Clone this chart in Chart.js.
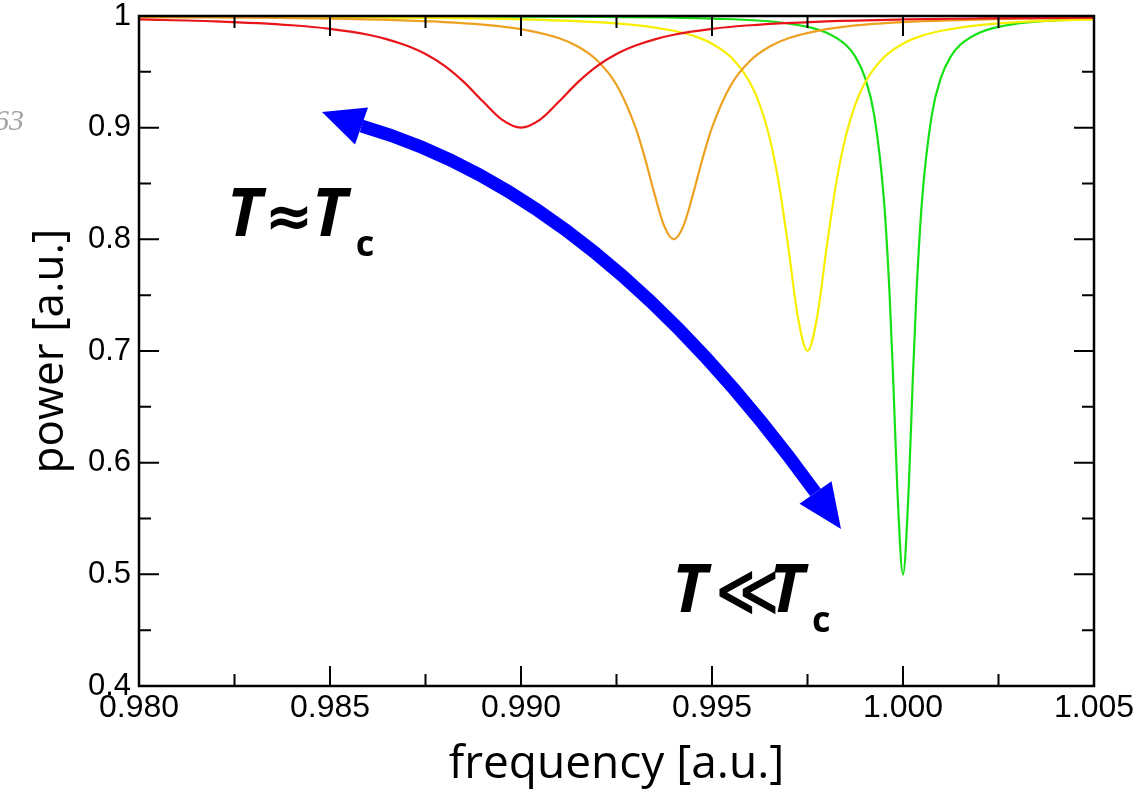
<!DOCTYPE html>
<html><head><meta charset="utf-8">
<script src="https://cdn.jsdelivr.net/npm/chart.js@4.4.1/dist/chart.umd.min.js"></script>
<style>html,body{margin:0;padding:0;background:#fff;}canvas{display:block;}</style>
</head><body>
<canvas id="c" width="1147" height="792"></canvas>
<script>
// ---- data ----
const redX = [0.980, 0.982, 0.984, 0.985, 0.986, 0.9865, 0.987, 0.9875, 0.988, 0.9885, 0.989, 0.9895, 0.990, 0.9905, 0.991, 0.9915, 0.992, 0.9925, 0.993, 0.9935, 0.994, 0.995, 0.996, 0.998, 1.000, 1.002, 1.005];
const redY = [0.9969, 0.9952, 0.9917, 0.9885, 0.9832, 0.9791, 0.9735, 0.9659, 0.9553, 0.9410, 0.9236, 0.9072, 0.9000, 0.9072, 0.9236, 0.9410, 0.9553, 0.9659, 0.9735, 0.9791, 0.9832, 0.9885, 0.9917, 0.9952, 0.9969, 0.9978, 0.9986];

const orangeX = [0.980, 0.985, 0.988, 0.989, 0.990, 0.991, 0.9915, 0.992, 0.9925, 0.993, 0.99325, 0.9935, 0.99375, 0.994, 0.99425, 0.9945, 0.99475, 0.995, 0.9955, 0.996, 0.9965, 0.997, 0.998, 0.999, 1.000, 1.003, 1.005];
const orangeY = [0.9990, 0.9976, 0.9946, 0.9923, 0.9882, 0.9800, 0.9724, 0.9600, 0.9385, 0.9000, 0.8720, 0.8400, 0.8118, 0.8000, 0.8118, 0.8400, 0.8720, 0.9000, 0.9385, 0.9600, 0.9724, 0.9800, 0.9882, 0.9923, 0.9946, 0.9976, 0.9984];

const yellowX = [0.980, 0.985, 0.990, 0.992, 0.993, 0.994, 0.9945, 0.995, 0.9955, 0.996, 0.99625, 0.9965, 0.99675, 0.997, 0.99725, 0.9975, 0.99775, 0.998, 0.99825, 0.9985, 0.99875, 0.999, 0.9995, 1.000, 1.0005, 1.001, 1.002, 1.003, 1.005];
const yellowY = [0.9995, 0.9989, 0.9970, 0.9945, 0.9919, 0.9868, 0.9824, 0.9752, 0.9630, 0.9400, 0.9206, 0.8920, 0.8500, 0.7923, 0.7300, 0.7000, 0.7300, 0.7923, 0.8500, 0.8920, 0.9206, 0.9400, 0.9630, 0.9752, 0.9824, 0.9868, 0.9919, 0.9945, 0.9970];

const greenX = [0.980, 0.990, 0.995, 0.997, 0.998, 0.9985, 0.99875, 0.999, 0.99925, 0.9995, 0.99965, 0.99975, 0.99985, 1.000, 1.00015, 1.00025, 1.00035, 1.0005, 1.00075, 1.001, 1.00125, 1.0015, 1.002, 1.003, 1.005];
const greenY = [0.9999, 0.9994, 0.9976, 0.9933, 0.9851, 0.9742, 0.9637, 0.9454, 0.9106, 0.8356, 0.7500, 0.6689, 0.5776, 0.5000, 0.5776, 0.6689, 0.7500, 0.8356, 0.9106, 0.9454, 0.9637, 0.9742, 0.9851, 0.9933, 0.9976];

const xTickValues = [0.980, 0.985, 0.990, 0.995, 1.000, 1.005];
const xTickLabels = ['0.980', '0.985', '0.990', '0.995', '1.000', '1.005'];
const xMinorTicks = [0.9825, 0.9875, 0.9925, 0.9975, 1.0025];
const yTickValues = [0.4, 0.5, 0.6, 0.7, 0.8, 0.9, 1.0];
const yTickLabels = ['0.4', '0.5', '0.6', '0.7', '0.8', '0.9', '1'];
const yMinorTicks = [0.45, 0.55, 0.65, 0.75, 0.85, 0.95];

// ---- annotations (placed in data space) ----
const arrowSpec = {
  tip1: {x: 0.984791, y: 0.91403}, base1: {x: 0.985825, y: 0.90149},
  ctrl: {x: 0.992068, y: 0.83970},
  base2: {x: 0.997710, y: 0.57329}, tip2: {x: 0.998377, y: 0.54060},
  shaftWidth: 13, headWidth: 39, color: '#0000ff'
};
const labelSpecs = [
  {x: 0.98230, y: 0.8030, rel: '\u2248', relFont: 'bold 58px "DejaVu Sans"', relDx: 38, t2Dx: 85, cDx: 129},
  {x: 0.993953, y: 0.4660, rel: '\u226A', relFont: 'bold 62px "DejaVu Sans"', relDx: 43, t2Dx: 97, cDx: 140}
];

const pts = (xs, ys) => xs.map((x, i) => ({x, y: ys[i]}));
const mkSet = (label, xs, ys, color) => ({
  label, data: pts(xs, ys), borderColor: color, backgroundColor: color,
  borderWidth: 2.2, pointRadius: 0, fill: false, cubicInterpolationMode: 'monotone'
});

const decor = {
  id: 'decor',
  afterDatasetsDraw(chart) {
    const {ctx, chartArea: a, scales: {x, y}} = chart;
    ctx.save();
    // frame
    ctx.strokeStyle = '#000'; ctx.lineWidth = 2.5;
    ctx.strokeRect(a.left, a.top, a.right - a.left, a.bottom - a.top);
    // inward ticks on all sides
    ctx.lineWidth = 2;
    const tx = (v, len) => {
      const p = x.getPixelForValue(v);
      ctx.beginPath(); ctx.moveTo(p, a.bottom); ctx.lineTo(p, a.bottom - len);
      ctx.moveTo(p, a.top); ctx.lineTo(p, a.top + len); ctx.stroke();
    };
    const ty = (v, len) => {
      const p = y.getPixelForValue(v);
      ctx.beginPath(); ctx.moveTo(a.left, p); ctx.lineTo(a.left + len, p);
      ctx.moveTo(a.right, p); ctx.lineTo(a.right - len, p); ctx.stroke();
    };
    xTickValues.forEach(v => tx(v, 20)); xMinorTicks.forEach(v => tx(v, 12));
    yTickValues.forEach(v => ty(v, 20)); yMinorTicks.forEach(v => ty(v, 12));

    // double-headed curved arrow
    const P = o => ({px: x.getPixelForValue(o.x), py: y.getPixelForValue(o.y)});
    const t1 = P(arrowSpec.tip1), b1 = P(arrowSpec.base1), c = P(arrowSpec.ctrl), b2 = P(arrowSpec.base2), t2 = P(arrowSpec.tip2);
    ctx.strokeStyle = arrowSpec.color; ctx.fillStyle = arrowSpec.color;
    ctx.lineWidth = arrowSpec.shaftWidth; ctx.lineCap = 'butt';
    ctx.beginPath(); ctx.moveTo(b1.px, b1.py); ctx.quadraticCurveTo(c.px, c.py, b2.px, b2.py); ctx.stroke();
    const head = (tip, base) => {
      const dx = base.px - tip.px, dy = base.py - tip.py, L = Math.hypot(dx, dy);
      const nx = -dy / L * arrowSpec.headWidth / 2, ny = dx / L * arrowSpec.headWidth / 2;
      ctx.beginPath(); ctx.moveTo(tip.px, tip.py);
      ctx.lineTo(base.px + nx, base.py + ny); ctx.lineTo(base.px - nx, base.py - ny);
      ctx.closePath(); ctx.fill();
    };
    head(t1, b1); head(t2, b2);

    // T ~ Tc labels
    ctx.fillStyle = '#000'; ctx.textBaseline = 'alphabetic'; ctx.textAlign = 'left';
    labelSpecs.forEach(s => {
      const px = x.getPixelForValue(s.x), py = y.getPixelForValue(s.y);
      ctx.font = 'italic bold 66px "Open Sans"';
      ctx.fillText('T', px, py);
      ctx.font = s.relFont;
      ctx.fillText(s.rel, px + s.relDx, py);
      ctx.font = 'italic bold 66px "Open Sans"';
      ctx.fillText('T', px + s.t2Dx, py);
      ctx.font = 'bold 36px "Open Sans"';
      ctx.fillText('c', px + s.cDx, py + 20);
    });

    // faint page number fragment at the far left
    ctx.font = 'italic 30px "Liberation Serif"'; ctx.fillStyle = '#a2a2a2'; ctx.textAlign = 'right';
    ctx.fillText('63', 24, 130);
    ctx.restore();
  }
};

new Chart(document.getElementById('c'), {
  type: 'line',
  data: {
    datasets: [
      mkSet('red', redX, redY, '#e8141a'),
      mkSet('orange', orangeX, orangeY, '#eea020'),
      mkSet('yellow', yellowX, yellowY, '#f8ee00'),
      mkSet('green', greenX, greenY, '#14e014')
    ]
  },
  options: {
    responsive: false, animation: false, devicePixelRatio: 1,
    layout: {padding: {left: 0, right: 53, top: 16, bottom: 0}},
    plugins: {legend: {display: false}, tooltip: {enabled: false}},
    scales: {
      x: {
        type: 'linear', min: 0.980, max: 1.005,
        grid: {display: false, drawTicks: false}, border: {display: false},
        afterBuildTicks: s => { s.ticks = xTickValues.map(v => ({value: v})); },
        ticks: {
          color: '#000', padding: 3, maxRotation: 0, autoSkip: false,
          font: {family: '"Liberation Sans", Arial', size: 32},
          callback: (v, i) => xTickLabels[i]
        },
        title: {display: true, text: 'frequency [a.u.]', color: '#000',
          font: {family: '"Open Sans"', size: 46}, padding: {top: 0, bottom: 0}},
        afterFit: s => { s.height = 106; s.paddingLeft = 0; s.paddingRight = 0; }
      },
      y: {
        type: 'linear', min: 0.4, max: 1.0,
        grid: {display: false, drawTicks: false}, border: {display: false},
        afterBuildTicks: s => { s.ticks = yTickValues.map(v => ({value: v})); },
        ticks: {
          color: '#000', padding: 8, autoSkip: false,
          font: {family: '"Liberation Sans", Arial', size: 31},
          callback: (v, i) => yTickLabels[i]
        },
        title: {display: true, text: 'power [a.u.]', color: '#000',
          font: {family: '"Open Sans"', size: 44}, padding: {top: 24, bottom: 0}},
        afterFit: s => { s.width = 139; s.paddingTop = 0; s.paddingBottom = 0; }
      }
    }
  },
  plugins: [decor]
});
</script>
</body></html>
